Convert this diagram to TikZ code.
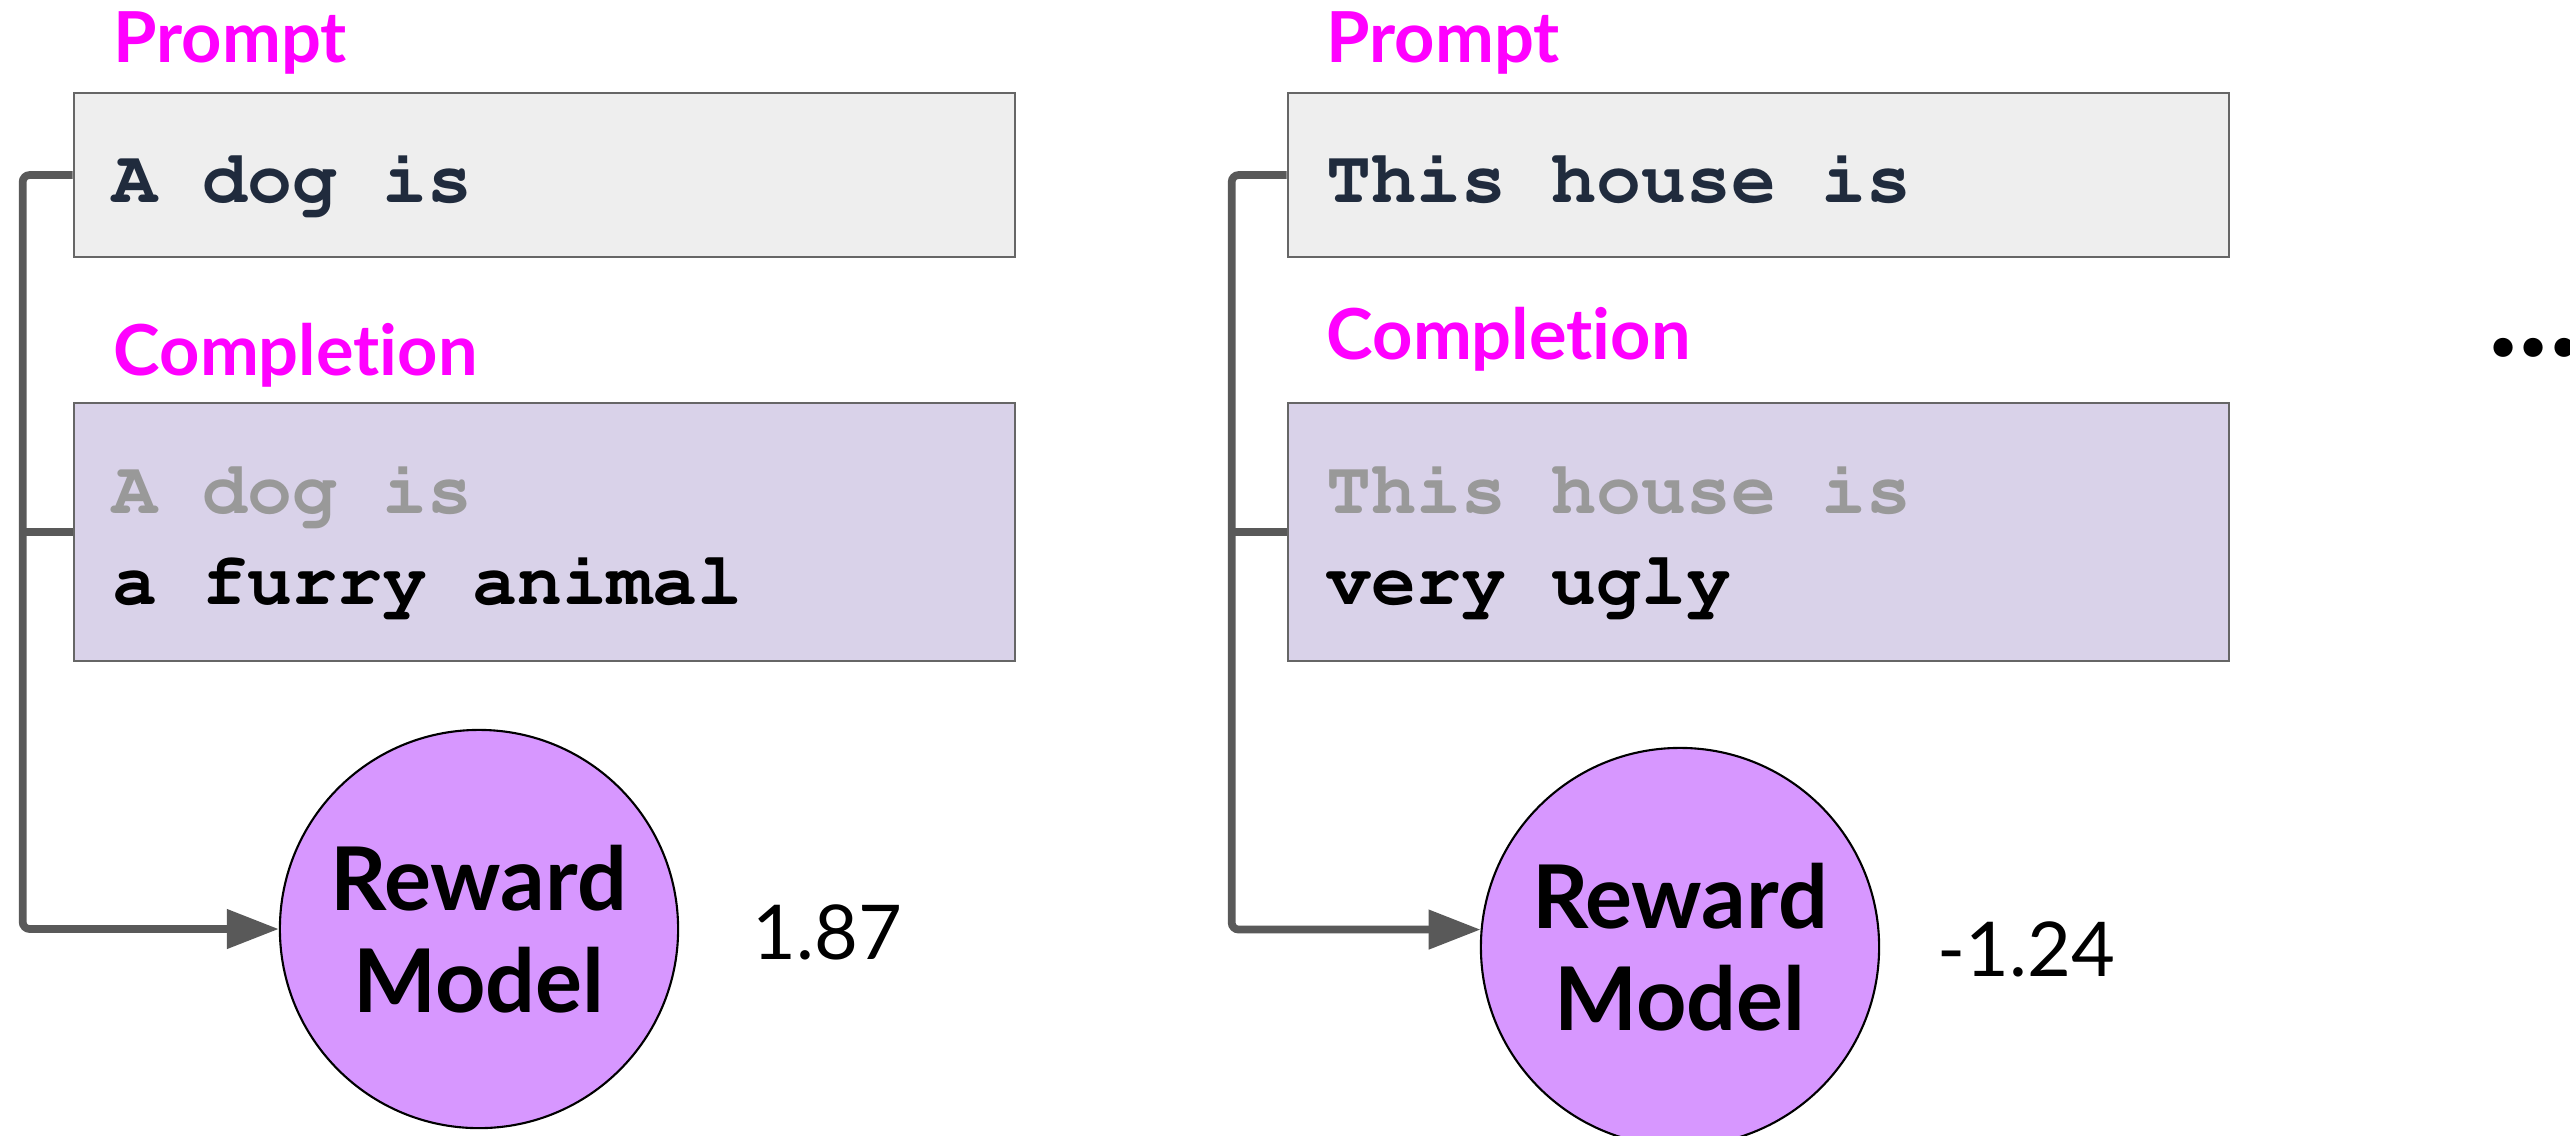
\documentclass[tikz,border=0pt]{standalone}
\usepackage[T1]{fontenc}
\usepackage{fontspec}
\setmainfont{Lato}[Ligatures=NoCommon]
\newcommand{\codefont}{\fontencoding{T1}\fontfamily{pcr}\fontseries{b}\fontsize{21.3}{25.9}\selectfont}
\usetikzlibrary{arrows.meta}
\definecolor{mag}{HTML}{FF00FF}
\definecolor{promptink}{HTML}{202B3D}
\definecolor{fadeink}{HTML}{999999}
\definecolor{promptfill}{HTML}{EEEEEE}
\definecolor{complfill}{HTML}{D9D2E9}
\definecolor{boxline}{HTML}{666666}
\definecolor{rmfill}{HTML}{D797FF}
\definecolor{connline}{HTML}{595959}

\begin{document}
\begin{tikzpicture}[x=0.01cm, y=-0.01cm, >={Triangle[length=0.52cm,width=0.38cm]},
    lbl/.style={anchor=base west, inner sep=0, text=mag, font=\fontsize{20}{24}\selectfont\bfseries},
    promptbox/.style={draw=boxline, line width=0.6pt, fill=promptfill, minimum height=1.64cm,
      text width=8.63cm, inner xsep=0.39cm, align=left, text height=0.62cm, text depth=0.08cm,
      font=\codefont, text=promptink, execute at begin node={\spaceskip=0pt\xspaceskip=0pt\relax}},
    complbox/.style={promptbox, fill=complfill, minimum height=2.58cm, text depth=1.0cm, text=black},
    rmodel/.style={circle, draw=black, line width=0.6pt, fill=rmfill, minimum size=3.98cm,
      inner sep=0, align=center, font=\fontsize{25}{29}\selectfont\bfseries},
    score/.style={anchor=base west, inner sep=0, font=\fontsize{21.5}{26}\selectfont},
    conn/.style={draw=connline, line width=2.2pt, rounded corners=2pt}]
  \useasboundingbox (0,0) rectangle (2570,1135);

  % first sample
  \node[lbl] (plabel1) at (113,62) {Prompt};
  \node[promptbox] (prompt1) at (544.5,175) {A dog is};
  \node[lbl] (clabel1) at (113,375) {Completion};
  \node[complbox] (compl1) at (544.5,532) {{\color{fadeink}A dog is}\\a furry animal};
  \node[rmodel] (rm1) at (479,929) {Reward\\Model};
  \node[score] (score1) at (752,959) {1.87};

  % second sample
  \node[lbl] (plabel2) at (1326,62) {Prompt};
  \node[promptbox] (prompt2) at (1758.5,175) {This house is};
  \node[lbl] (clabel2) at (1326,359) {Completion};
  \node[complbox] (compl2) at (1758.5,532) {{\color{fadeink}This house is}\\very ugly};
  \node[rmodel] (rm2) at (1680,947) {Reward\\Model};
  \node[score] (score2) at (1937,976) {-1.24};

  \node[anchor=base west, inner sep=0, font=\fontsize{36}{40}\selectfont\bfseries] (more) at (2488,356) {...};

  \draw[conn,->] (prompt1.west) -- ++(-50,0) coordinate (j1) |- (rm1.west);
  \draw[conn] (compl1.west) -- (compl1.west -| j1);
  \draw[conn,->] (prompt2.west) -- ++(-55,0) coordinate (j2) |- (rm2.175);
  \draw[conn] (compl2.west) -- (compl2.west -| j2);
\end{tikzpicture}
\end{document}
